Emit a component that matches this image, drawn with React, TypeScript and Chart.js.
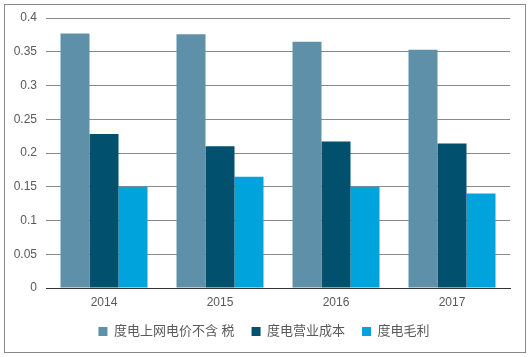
import React, { useEffect, useRef } from "react";
import { Chart, registerables } from "chart.js";

Chart.register(...registerables);

const categories = ["2014", "2015", "2016", "2017"];
const seriesNames = ["度电上网电价不含 税", "度电营业成本", "度电毛利"];
const priceExTax = [0.377, 0.376, 0.365, 0.353];
const operatingCost = [0.228, 0.21, 0.217, 0.214];
const grossProfit = [0.15, 0.165, 0.15, 0.14];
const seriesColors = ["#5e91a9", "#01506d", "#00a3dc"];
const yTickLabels = ["0", "0.05", "0.1", "0.15", "0.2", "0.25", "0.3", "0.35", "0.4"];

const FONT = "'Liberation Sans', Arial, 'Noto Sans CJK SC', sans-serif";

const legendShift = {
  id: "legendShift",
  afterLayout(chart: any) {
    if (chart.legend) {
      chart.legend.left += 4;
      chart.legend.right += 4;
    }
  },
};

export default function App() {
  const canvasRef = useRef<HTMLCanvasElement | null>(null);

  useEffect(() => {
    document.body.style.margin = "0";
    const ctx = canvasRef.current;
    if (!ctx) return;
    const values = [priceExTax, operatingCost, grossProfit];
    const chart = new Chart(ctx, {
      type: "bar",
      data: {
        labels: categories,
        datasets: seriesNames.map((name, i) => ({
          label: name,
          data: values[i],
          backgroundColor: seriesColors[i],
          borderWidth: 0,
          categoryPercentage: 0.75,
          barPercentage: 1,
        })),
      },
      options: {
        animation: false,
        responsive: false,
        maintainAspectRatio: false,
        layout: { padding: { left: 10, right: 21, top: 18, bottom: 9 } },
        plugins: {
          tooltip: { enabled: false },
          legend: {
            position: "bottom",
            labels: {
              boxWidth: 9,
              boxHeight: 9,
              padding: 17,
              color: "#595959",
              font: { size: 13, family: FONT },
            },
          },
        },
        scales: {
          x: {
            grid: { display: false, drawTicks: false },
            border: { display: true, color: "#333333", width: 1 },
            ticks: { color: "#595959", font: { size: 12, family: FONT }, padding: 7 },
            afterFit: (s: any) => {
              s.height = 20;
            },
          },
          y: {
            min: 0,
            max: 0.4,
            grid: { color: "#8a8a8a", drawTicks: false, lineWidth: 1 },
            border: { display: false },
            ticks: {
              stepSize: 0.05,
              padding: 9,
              color: "#595959",
              font: { size: 12, family: FONT },
              callback: (_v: any, i: number) => yTickLabels[i],
            },
            afterFit: (s: any) => {
              s.width = 36;
            },
          },
        },
      },
      plugins: [legendShift],
    });
    return () => chart.destroy();
  }, []);

  return (
    <div style={{ position: "relative", width: 531, height: 357, background: "#fff" }}>
      <div
        style={{
          position: "absolute",
          left: 4,
          top: 4,
          width: 520,
          height: 347,
          border: "1px solid #898989",
          boxSizing: "content-box",
        }}
      />
      <canvas ref={canvasRef} width={531} height={357} style={{ position: "absolute", left: 0, top: 0 }} />
    </div>
  );
}
